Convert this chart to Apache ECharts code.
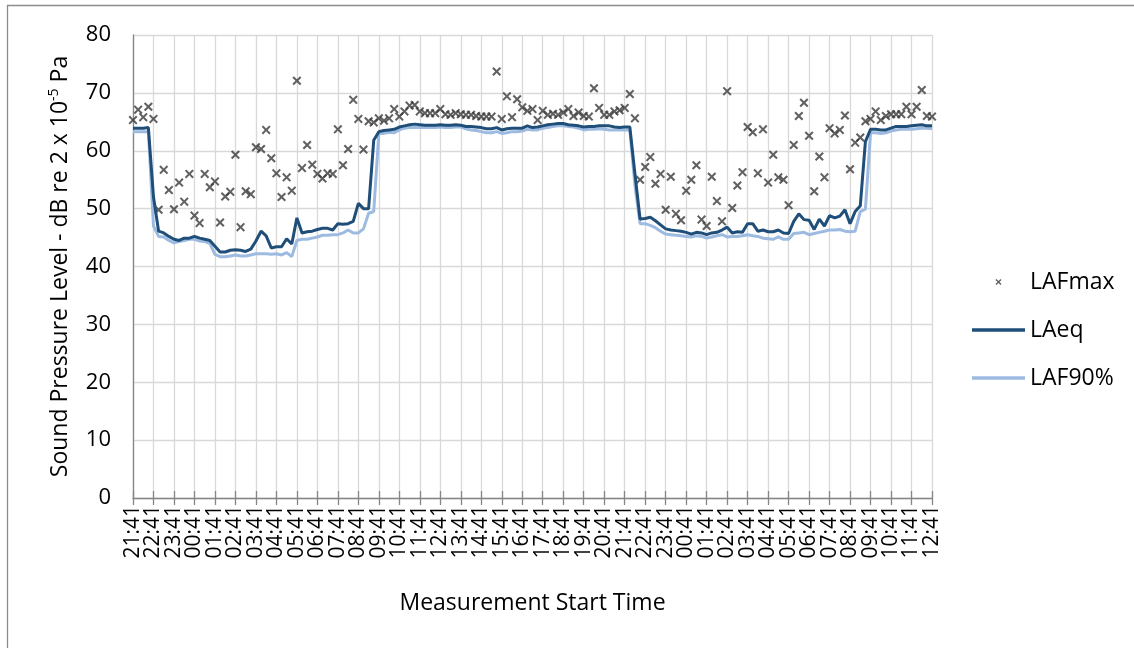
<!DOCTYPE html>
<html>
<head>
<meta charset="utf-8">
<script src="https://cdn.jsdelivr.net/npm/echarts@6/dist/echarts.min.js"></script>
<style>
html,body{margin:0;padding:0;background:#fff;}
#chart{width:1134px;height:648px;}
</style>
</head>
<body>
<div id="chart"></div>
<script>
// Categories: 15-minute measurement start times, 21:41 (day 1) to 12:41 (day 3)
const startMinutes = 21 * 60 + 41;
const stepMinutes = 15;
const pointCount = 157;
const categories = [];
for (let i = 0; i < pointCount; i++) {
  const t = (startMinutes + i * stepMinutes) % 1440;
  categories.push(String(Math.floor(t / 60)).padStart(2, '0') + ':' + String(t % 60).padStart(2, '0'));
}
const labelEvery = 4; // one tick label per hour

const LAFmax = [
  65.3, 67.1, 65.8, 67.6, 65.5, 49.8, 56.7, 53.2, 49.9, 54.5,
  51.2, 56.0, 48.8, 47.5, 56.0, 53.7, 54.7, 47.6, 52.1, 52.9,
  59.3, 46.8, 53.0, 52.5, 60.6, 60.3, 63.6, 58.7, 56.1, 52.0,
  55.4, 53.1, 72.1, 57.0, 61.0, 57.6, 56.0, 55.2, 56.1, 56.0,
  63.7, 57.5, 60.3, 68.8, 65.5, 60.2, 65.1, 64.9, 65.6, 65.2,
  65.6, 67.2, 65.9, 66.8, 67.8, 67.9, 66.8, 66.5, 66.5, 66.5,
  67.2, 66.3, 66.2, 66.5, 66.3, 66.2, 66.2, 66.0, 65.9, 65.9,
  65.9, 73.7, 65.5, 69.4, 65.8, 68.9, 67.5, 66.9, 67.2, 65.3,
  66.9, 66.2, 66.4, 66.2, 66.6, 67.2, 66.0, 66.6, 66.0, 65.9,
  70.8, 67.4, 66.2, 66.2, 66.8, 67.0, 67.4, 69.8, 65.6, 55.0,
  57.2, 58.9, 54.3, 56.0, 49.8, 55.5, 49.1, 48.0, 53.1, 55.0,
  57.5, 48.1, 47.0, 55.5, 51.3, 47.8, 70.3, 50.1, 54.0, 56.3,
  64.1, 63.2, 56.1, 63.7, 54.5, 59.3, 55.4, 55.0, 50.6, 61.0,
  66.0, 68.3, 62.6, 53.0, 59.0, 55.4, 63.9, 63.0, 63.6, 66.1,
  56.8, 61.4, 62.3, 65.1, 65.5, 66.8, 65.3, 66.0, 66.3, 66.3,
  66.3, 67.6, 66.3, 67.6, 70.5, 66.0, 65.9
];

const LAeq = [
  63.9, 63.9, 63.9, 64.0, 52.0, 46.1, 45.8, 45.2, 44.7, 44.5,
  44.9, 44.9, 45.2, 44.9, 44.7, 44.5, 43.5, 42.5, 42.5, 42.8,
  42.9, 42.8, 42.6, 43.0, 44.4, 46.1, 45.3, 43.2, 43.4, 43.4,
  44.8, 43.9, 48.4, 45.8, 46.0, 46.1, 46.4, 46.6, 46.6, 46.3,
  47.4, 47.3, 47.4, 47.8, 50.9, 50.0, 50.0, 61.8, 63.3, 63.5,
  63.6, 63.7, 64.1, 64.3, 64.5, 64.6, 64.5, 64.4, 64.4, 64.4,
  64.5, 64.4, 64.4, 64.5, 64.4, 64.2, 64.2, 64.1, 64.0, 63.8,
  63.8, 64.0, 63.6, 63.8, 63.9, 63.9, 63.9, 64.3, 64.0, 64.1,
  64.3, 64.5, 64.6, 64.7, 64.7, 64.5, 64.4, 64.3, 64.1, 64.2,
  64.2, 64.3, 64.3, 64.3, 64.1, 64.0, 64.1, 64.1, 56.0, 48.2,
  48.3, 48.5, 47.9, 47.2, 46.5, 46.3, 46.2, 46.1, 45.9, 45.6,
  45.9, 45.8, 45.5, 45.8, 45.9, 46.3, 46.8, 45.8, 46.0, 45.9,
  47.4, 47.4, 46.1, 46.3, 46.0, 46.0, 46.3, 45.8, 45.7, 47.8,
  49.1, 48.1, 48.0, 46.4, 48.2, 47.0, 48.8, 48.4, 48.7, 49.8,
  47.4, 49.5, 50.5, 61.6, 63.7, 63.7, 63.6, 63.6, 63.9, 64.2,
  64.2, 64.2, 64.3, 64.4, 64.5, 64.3, 64.3
];

const LAF90 = [
  63.3, 63.3, 63.3, 63.3, 47.0, 45.2, 45.1, 44.5, 44.1, 44.3,
  44.5, 44.7, 44.7, 44.4, 44.3, 44.0, 42.1, 41.7, 41.7, 41.8,
  42.0, 41.8, 41.8, 42.0, 42.2, 42.2, 42.2, 42.1, 42.2, 42.0,
  42.4, 41.7, 44.5, 44.7, 44.7, 44.9, 45.1, 45.4, 45.4, 45.5,
  45.5, 45.8, 46.3, 45.8, 45.8, 46.5, 49.2, 49.5, 63.0, 63.0,
  63.2, 63.1, 63.6, 63.9, 64.0, 64.0, 64.0, 64.0, 64.0, 64.0,
  64.1, 64.0, 64.0, 64.1, 64.1, 63.8, 63.6, 63.5, 63.3, 63.1,
  63.1, 63.3, 63.0, 63.1, 63.3, 63.3, 63.4, 63.7, 63.6, 63.6,
  63.9, 64.0, 64.2, 64.3, 64.3, 64.2, 64.1, 63.9, 63.6, 63.7,
  63.7, 63.8, 63.7, 63.6, 63.6, 63.6, 63.6, 63.6, 54.0, 47.4,
  47.4, 47.1, 46.7, 46.1, 45.6, 45.5, 45.4, 45.3, 45.2, 45.1,
  45.3, 45.2, 44.9, 45.1, 45.3, 45.5, 45.1, 45.2, 45.2, 45.3,
  45.5, 45.3, 45.2, 44.9, 44.8, 44.7, 45.1, 44.7, 44.7, 45.7,
  45.8, 45.9, 45.5, 45.7, 45.9, 46.1, 46.3, 46.3, 46.4, 46.1,
  46.0, 46.1, 49.5, 49.9, 63.1, 63.1, 63.0, 63.1, 63.4, 63.6,
  63.7, 63.7, 63.7, 63.8, 63.9, 63.9, 63.8
];

const yTicks = { min: 0, max: 80, interval: 10 };
const seriesNames = ['LAFmax', 'LAeq', 'LAF90%'];
const xTitle = 'Measurement Start Time';
const yTitle = 'Sound Pressure Level - dB re 2 x 10{sup|-5} Pa';

const FONT = 'Open Sans';
const crossPath = 'path://M0,1.6 L1.6,0 L5,3.4 L8.4,0 L10,1.6 L6.6,5 L10,8.4 L8.4,10 L5,6.6 L1.6,10 L0,8.4 L3.4,5 Z';
const barIcon = 'path://M0,0 L53,0 L53,3.5 L0,3.5 Z';

const chart = echarts.init(document.getElementById('chart'), null, { renderer: 'canvas' });

const option = {
  animation: false,
  backgroundColor: '#ffffff',
  textStyle: { fontFamily: FONT },
  graphic: [
    { type: 'line', shape: { x1: 7, y1: 5.5, x2: 1134, y2: 5.5 }, style: { stroke: '#8c8c8c', lineWidth: 1.3 } },
    { type: 'line', shape: { x1: 7.5, y1: 5, x2: 7.5, y2: 648 }, style: { stroke: '#8c8c8c', lineWidth: 1.3 } }
  ],
  grid: { left: 133, right: 202, top: 35, bottom: 150, containLabel: false },
  legend: {
    orient: 'vertical',
    left: 972,
    top: 270,
    padding: 0,
    itemWidth: 53,
    itemHeight: 6,
    itemGap: 24,
    symbolKeepAspect: true,
    textStyle: { fontFamily: FONT, fontSize: 23, color: '#000', lineHeight: 24 },
    data: [
      { name: seriesNames[0] },
      { name: seriesNames[1], icon: barIcon },
      { name: seriesNames[2], icon: barIcon }
    ]
  },
  xAxis: [
    {
      type: 'category',
      data: categories,
      boundaryGap: false,
      name: xTitle,
      nameLocation: 'middle',
      nameGap: 94,
      nameTextStyle: { fontFamily: FONT, fontSize: 23, color: '#000' },
      axisLine: { show: true, lineStyle: { color: '#868686', width: 1.3 } },
      axisTick: { show: true, interval: labelEvery - 1, length: 7, lineStyle: { color: '#868686', width: 1.3 } },
      axisLabel: {
        interval: 0, rotate: 90, margin: 7, fontFamily: FONT, fontSize: 21, lineHeight: 17, color: '#000',
        formatter: (value, idx) => (idx % labelEvery === 0 ? value : '')
      },
      splitLine: { show: true, interval: labelEvery - 1, lineStyle: { color: '#d9d9d9', width: 1.3 } }
    },
    {
      type: 'category',
      data: categories,
      boundaryGap: false,
      position: 'top',
      offset: -463,
      axisLine: { show: false },
      axisTick: { show: true, interval: labelEvery - 1, length: 7, lineStyle: { color: '#868686', width: 1.3 } },
      axisLabel: { show: false },
      splitLine: { show: false }
    }
  ],
  yAxis: {
    type: 'value',
    min: yTicks.min,
    max: yTicks.max,
    interval: yTicks.interval,
    name: yTitle,
    nameLocation: 'middle',
    nameGap: 57,
    nameTextStyle: {
      fontFamily: FONT, fontSize: 23, color: '#000', lineHeight: 28,
      rich: { sup: { fontFamily: FONT, fontSize: 14, lineHeight: 14, verticalAlign: 'top', color: '#000' } }
    },
    axisLine: { show: true, lineStyle: { color: '#868686', width: 1.3 } },
    axisTick: { show: false },
    axisLabel: { margin: 22, fontFamily: FONT, fontSize: 22, color: '#000' },
    splitLine: { show: true, lineStyle: { color: '#d9d9d9', width: 1.3 } }
  },
  series: [
    {
      name: seriesNames[0],
      type: 'scatter',
      data: LAFmax,
      symbol: crossPath,
      symbolSize: 9,
      itemStyle: { color: '#3a3a3a' },
      z: 2
    },
    {
      name: seriesNames[1],
      type: 'line',
      data: LAeq,
      symbol: 'none',
      lineStyle: { color: '#1f4e79', width: 3 },
      itemStyle: { color: '#1f4e79' },
      z: 4
    },
    {
      name: seriesNames[2],
      type: 'line',
      data: LAF90,
      symbol: 'none',
      lineStyle: { color: '#9dbbe0', width: 3 },
      itemStyle: { color: '#9dbbe0' },
      z: 3
    }
  ]
};
chart.setOption(option);
</script>
</body>
</html>
